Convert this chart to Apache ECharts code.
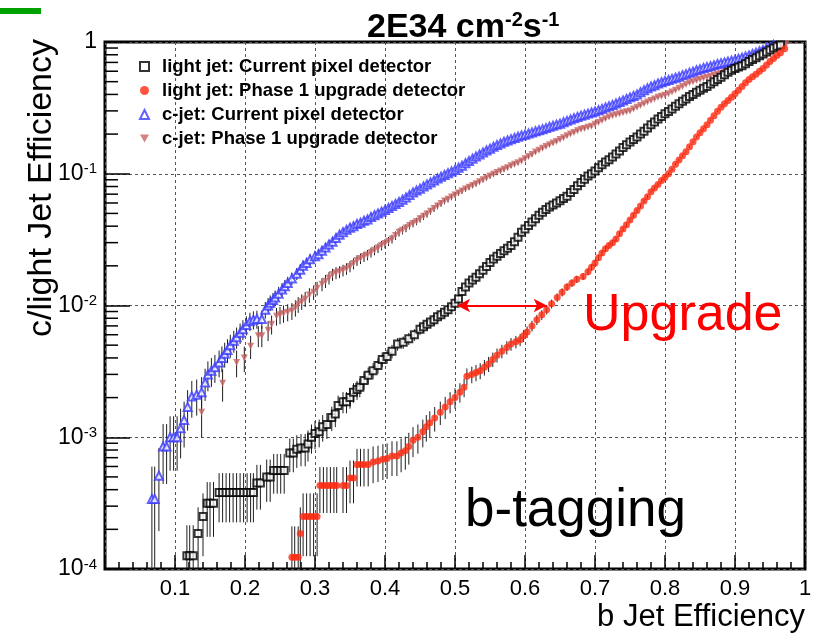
<!DOCTYPE html>
<html><head><meta charset="utf-8">
<script src="https://cdn.jsdelivr.net/npm/echarts/dist/echarts.min.js"></script>
<style>html,body{margin:0;padding:0;background:#fff}#c{width:818px;height:637px}</style>
</head><body><div id="c"></div><script>
const FONT = "'Liberation Sans', Arial, Helvetica, sans-serif";

// ---- data (b-jet efficiency, mistag efficiency) ----
const seriesNames = [
  'light jet: Current pixel detector',
  'light jet: Phase 1 upgrade detector',
  'c-jet: Current pixel detector',
  'c-jet: Phase 1 upgrade detector'
];
// events used for binomial error bars
const nLight = 16000;
const nCharm = 5100;

const lightCurrent = [
[0.117,1.26e-4],[0.121,1.26e-4],[0.126,1.26e-4],[0.133,1.86e-4],[0.140,2.5e-4],[0.146,3.16e-4],[0.150,3.16e-4],[0.155,3.16e-4],
[0.163,3.8e-4],[0.168,3.8e-4],[0.173,3.8e-4],[0.178,3.8e-4],[0.183,3.8e-4],[0.188,3.8e-4],[0.193,3.8e-4],[0.198,3.8e-4],[0.203,3.8e-4],[0.208,3.8e-4],[0.212,3.8e-4],
[0.217,4.5e-4],[0.222,4.5e-4],[0.231,5.0e-4],[0.236,5.0e-4],[0.241,5.6e-4],[0.246,5.6e-4],[0.251,5.6e-4],[0.256,5.6e-4],
[0.264,7.6e-4],[0.269,7.6e-4],[0.274,8.1e-4],[0.280,8.3e-4],[0.286,8.3e-4],[0.290,8.9e-4],[0.295,1.0e-3],[0.300,1.07e-3],[0.306,1.1e-3],[0.311,1.2e-3],[0.317,1.25e-3],
[0.324,1.41e-3],[0.329,1.5e-3],[0.333,1.74e-3],[0.340,1.86e-3],[0.345,1.86e-3],[0.350,2.0e-3],[0.355,2.2e-3],[0.360,2.3e-3],[0.364,2.4e-3],[0.370,2.7e-3],
[0.376,2.95e-3],[0.383,3.2e-3],[0.390,3.5e-3],[0.396,3.9e-3],[0.403,4.1e-3],[0.410,4.5e-3],[0.418,5.1e-3],[0.426,5.25e-3],[0.434,5.6e-3],[0.442,6.0e-3],
[0.450,6.6e-3],[0.455,6.9e-3],[0.460,7.2e-3],[0.465,7.5e-3],[0.470,7.8e-3],[0.475,8.2e-3],[0.480,8.5e-3],[0.485,8.9e-3],[0.490,9.3e-3],[0.495,9.8e-3],
[0.500,1.04e-2],[0.505,1.12e-2],[0.510,1.28e-2],[0.515,1.38e-2],[0.520,1.48e-2],[0.525,1.56e-2],[0.530,1.64e-2],[0.535,1.74e-2],[0.540,1.85e-2],[0.545,1.98e-2],
[0.550,2.12e-2],[0.555,2.25e-2],[0.560,2.37e-2],[0.565,2.48e-2],[0.570,2.6e-2],[0.575,2.72e-2],[0.580,2.85e-2],[0.585,3.05e-2],[0.590,3.3e-2],[0.595,3.6e-2],
[0.600,3.8e-2],[0.605,4.05e-2],[0.610,4.3e-2],[0.615,4.55e-2],[0.620,4.85e-2],[0.625,5.1e-2],[0.630,5.35e-2],[0.635,5.6e-2],[0.640,5.8e-2],[0.645,6.0e-2],
[0.650,6.25e-2],[0.655,6.5e-2],[0.660,6.75e-2],[0.665,7.2e-2],[0.670,7.6e-2],[0.675,8.1e-2],[0.680,8.6e-2],[0.685,9.1e-2],[0.690,9.6e-2],[0.695,0.10],
[0.700,0.105],[0.705,0.111],[0.710,0.117],[0.715,0.123],[0.720,0.128],[0.725,0.134],[0.730,0.141],[0.735,0.149],[0.740,0.158],[0.745,0.166],
[0.750,0.174],[0.755,0.182],[0.760,0.19],[0.765,0.20],[0.770,0.21],[0.775,0.222],[0.780,0.235],[0.785,0.247],[0.790,0.26],[0.795,0.272],
[0.800,0.285],[0.805,0.297],[0.810,0.31],[0.815,0.325],[0.820,0.34],[0.825,0.355],[0.830,0.37],[0.835,0.385],[0.840,0.40],[0.845,0.415],
[0.850,0.43],[0.855,0.445],[0.860,0.46],[0.865,0.48],[0.870,0.50],[0.875,0.52],[0.880,0.54],[0.885,0.565],[0.890,0.59],[0.895,0.61],
[0.900,0.63],[0.905,0.645],[0.910,0.66],[0.915,0.685],[0.920,0.71],[0.925,0.735],[0.930,0.76],[0.935,0.785],[0.940,0.81],[0.945,0.84],
[0.950,0.87],[0.955,0.90],[0.960,0.93],[0.965,0.95]
];

const lightUpgrade = [
[0.267,1.23e-4],[0.271,1.23e-4],[0.276,1.23e-4],[0.279,1.86e-4],[0.283,2.5e-4],[0.288,2.5e-4],[0.293,2.5e-4],[0.298,2.5e-4],[0.303,2.5e-4],
[0.307,4.3e-4],[0.312,4.3e-4],[0.317,4.3e-4],[0.322,4.3e-4],[0.327,4.3e-4],[0.331,4.3e-4],[0.340,4.3e-4],[0.345,4.3e-4],[0.350,4.9e-4],[0.355,4.9e-4],
[0.360,6.2e-4],[0.365,6.2e-4],[0.370,6.2e-4],[0.376,6.2e-4],[0.383,6.5e-4],[0.390,6.6e-4],[0.397,6.8e-4],[0.403,6.9e-4],[0.410,7.2e-4],[0.417,7.2e-4],
[0.423,7.6e-4],[0.429,7.9e-4],[0.434,8.5e-4],[0.440,9.5e-4],[0.447,1.0e-3],[0.454,1.1e-3],[0.459,1.2e-3],[0.464,1.29e-3],[0.471,1.4e-3],[0.479,1.55e-3],
[0.486,1.7e-3],[0.493,1.86e-3],[0.500,2.0e-3],[0.507,2.2e-3],[0.513,2.4e-3],[0.517,2.9e-3],[0.524,3.0e-3],[0.530,3.1e-3],[0.536,3.2e-3],[0.542,3.4e-3],
[0.548,3.6e-3],[0.554,3.9e-3],[0.560,4.2e-3],[0.567,4.5e-3],[0.574,4.8e-3],[0.580,5.1e-3],[0.587,5.3e-3],[0.593,5.5e-3],[0.598,5.9e-3],[0.603,6.3e-3],
[0.610,7.0e-3],[0.617,7.8e-3],[0.624,8.5e-3],[0.631,9.3e-3],[0.638,1.03e-2],[0.646,1.15e-2],[0.653,1.26e-2],[0.660,1.38e-2],[0.667,1.48e-2],[0.674,1.58e-2],
[0.683,1.66e-2],[0.690,1.8e-2],[0.695,1.95e-2],[0.700,2.1e-2],[0.705,2.3e-2],[0.710,2.5e-2],[0.715,2.7e-2],[0.720,2.85e-2],[0.725,3.0e-2],[0.730,3.2e-2],
[0.735,3.5e-2],[0.740,3.8e-2],[0.745,4.1e-2],[0.750,4.45e-2],[0.755,4.85e-2],[0.760,5.25e-2],[0.765,5.7e-2],[0.770,6.2e-2],[0.775,6.7e-2],[0.780,7.3e-2],
[0.785,7.8e-2],[0.790,8.3e-2],[0.795,8.9e-2],[0.800,9.4e-2],[0.805,0.10],[0.810,0.108],[0.815,0.118],[0.820,0.127],[0.825,0.137],[0.830,0.147],
[0.835,0.16],[0.840,0.175],[0.845,0.19],[0.850,0.205],[0.855,0.22],[0.860,0.235],[0.865,0.255],[0.870,0.275],[0.875,0.298],[0.880,0.32],
[0.885,0.34],[0.890,0.36],[0.895,0.38],[0.900,0.405],[0.905,0.43],[0.910,0.46],[0.915,0.49],[0.920,0.52],[0.925,0.545],[0.930,0.57],
[0.935,0.60],[0.940,0.63],[0.945,0.67],[0.950,0.71],[0.955,0.75],[0.960,0.79],[0.965,0.83],[0.971,0.89]
];

const charmCurrent = [
[0.067,3.4e-4],[0.071,3.4e-4],[0.077,5.1e-4],[0.083,8.5e-4],[0.088,8.5e-4],[0.093,1.0e-3],[0.098,1.0e-3],[0.103,1.0e-3],[0.108,1.17e-3],[0.113,1.35e-3],
[0.118,1.7e-3],[0.124,2.04e-3],[0.131,2.1e-3],[0.138,2.2e-3],[0.143,2.6e-3],[0.147,3.0e-3],[0.152,3.2e-3],[0.157,3.4e-3],[0.163,3.7e-3],[0.167,4.0e-3],
[0.171,4.3e-3],[0.175,4.6e-3],[0.179,5.0e-3],[0.184,5.4e-3],[0.188,5.75e-3],[0.193,6.2e-3],[0.197,6.6e-3],[0.202,7.1e-3],[0.207,7.6e-3],[0.212,7.8e-3],
[0.217,7.9e-3],[0.224,7.9e-3],[0.229,9.3e-3],[0.233,1.0e-2],[0.236,1.05e-2],[0.240,1.1e-2],[0.243,1.15e-2],[0.248,1.23e-2],[0.253,1.32e-2],[0.257,1.4e-2],
[0.261,1.48e-2],[0.267,1.6e-2],[0.274,1.74e-2],[0.279,1.87e-2],[0.283,2.0e-2],[0.288,2.1e-2],[0.293,2.24e-2],[0.300,2.37e-2],[0.305,2.45e-2],[0.310,2.6e-2],
[0.315,2.75e-2],[0.320,2.9e-2],[0.325,3.05e-2],[0.330,3.25e-2],[0.335,3.45e-2],[0.340,3.6e-2],[0.345,3.75e-2],[0.350,3.9e-2],[0.355,4.0e-2],[0.360,4.15e-2],
[0.365,4.25e-2],[0.370,4.4e-2],[0.375,4.5e-2],[0.380,4.7e-2],[0.385,4.85e-2],[0.390,5.0e-2],[0.395,5.15e-2],[0.400,5.3e-2],[0.405,5.5e-2],[0.410,5.7e-2],
[0.415,5.9e-2],[0.420,6.1e-2],[0.425,6.35e-2],[0.430,6.6e-2],[0.435,6.9e-2],[0.440,7.2e-2],[0.445,7.45e-2],[0.450,7.7e-2],[0.455,8.0e-2],[0.460,8.3e-2],
[0.465,8.6e-2],[0.470,8.9e-2],[0.475,9.2e-2],[0.480,9.5e-2],[0.485,9.8e-2],[0.490,0.101],[0.495,0.104],[0.500,0.107],[0.505,0.111],[0.510,0.115],
[0.515,0.12],[0.520,0.125],[0.525,0.13],[0.530,0.135],[0.535,0.14],[0.540,0.145],[0.545,0.15],[0.550,0.155],[0.555,0.16],[0.560,0.165],
[0.565,0.17],[0.570,0.175],[0.575,0.179],[0.580,0.183],[0.585,0.187],[0.590,0.191],[0.595,0.195],[0.600,0.198],[0.605,0.202],[0.610,0.206],
[0.615,0.21],[0.620,0.214],[0.625,0.218],[0.630,0.222],[0.635,0.227],[0.640,0.231],[0.645,0.236],[0.650,0.24],[0.655,0.246],[0.660,0.252],
[0.665,0.258],[0.670,0.264],[0.675,0.27],[0.680,0.276],[0.685,0.281],[0.690,0.286],[0.695,0.292],[0.700,0.297],[0.705,0.304],[0.710,0.31],
[0.715,0.318],[0.720,0.325],[0.725,0.333],[0.730,0.341],[0.735,0.35],[0.740,0.36],[0.745,0.37],[0.750,0.38],[0.755,0.39],[0.760,0.40],
[0.765,0.415],[0.770,0.43],[0.775,0.445],[0.780,0.46],[0.785,0.47],[0.790,0.485],[0.795,0.495],[0.800,0.505],[0.805,0.515],[0.810,0.525],
[0.815,0.535],[0.820,0.545],[0.825,0.56],[0.830,0.57],[0.835,0.585],[0.840,0.595],[0.845,0.61],[0.850,0.62],[0.855,0.635],[0.860,0.645],
[0.865,0.655],[0.870,0.665],[0.875,0.68],[0.880,0.69],[0.885,0.70],[0.890,0.71],[0.895,0.72],[0.900,0.73],[0.905,0.745],[0.910,0.76],
[0.915,0.775],[0.920,0.79],[0.925,0.81],[0.930,0.83],[0.935,0.85],[0.940,0.87],[0.945,0.895],[0.950,0.92],[0.955,0.95]
];

const charmUpgrade = [
[0.138,1.55e-3],[0.168,2.57e-3],[0.188,3.7e-3],[0.199,4.0e-3],[0.208,4.9e-3],[0.219,5.9e-3],[0.224,5.9e-3],[0.233,6.5e-3],[0.238,7.2e-3],[0.245,8.3e-3],
[0.250,8.5e-3],[0.255,8.7e-3],[0.261,8.9e-3],[0.267,9.1e-3],[0.272,9.6e-3],[0.276,1.02e-2],[0.281,1.07e-2],[0.286,1.12e-2],[0.292,1.2e-2],[0.298,1.26e-2],
[0.303,1.35e-2],[0.310,1.45e-2],[0.315,1.53e-2],[0.320,1.62e-2],[0.325,1.72e-2],[0.330,1.77e-2],[0.335,1.8e-2],[0.340,1.85e-2],[0.345,1.9e-2],[0.350,1.98e-2],
[0.355,2.08e-2],[0.360,2.2e-2],[0.365,2.27e-2],[0.370,2.35e-2],[0.375,2.42e-2],[0.380,2.53e-2],[0.385,2.63e-2],[0.390,2.73e-2],[0.395,2.85e-2],[0.400,2.95e-2],
[0.405,3.07e-2],[0.410,3.2e-2],[0.415,3.4e-2],[0.420,3.6e-2],[0.425,3.73e-2],[0.430,3.87e-2],[0.435,4.05e-2],[0.440,4.2e-2],[0.445,4.35e-2],[0.450,4.55e-2],
[0.455,4.75e-2],[0.460,4.95e-2],[0.465,5.2e-2],[0.470,5.45e-2],[0.475,5.7e-2],[0.480,5.95e-2],[0.485,6.2e-2],[0.490,6.4e-2],[0.495,6.65e-2],[0.500,6.9e-2],
[0.505,7.15e-2],[0.510,7.4e-2],[0.515,7.65e-2],[0.520,7.9e-2],[0.525,8.15e-2],[0.530,8.4e-2],[0.535,8.7e-2],[0.540,9.0e-2],[0.545,9.3e-2],[0.550,9.6e-2],
[0.555,9.9e-2],[0.560,0.102],[0.565,0.105],[0.570,0.108],[0.575,0.111],[0.580,0.115],[0.585,0.118],[0.590,0.121],[0.595,0.125],[0.600,0.13],
[0.605,0.135],[0.610,0.14],[0.615,0.146],[0.620,0.151],[0.625,0.156],[0.630,0.161],[0.635,0.166],[0.640,0.171],[0.645,0.176],[0.650,0.182],
[0.655,0.188],[0.660,0.194],[0.665,0.20],[0.670,0.206],[0.675,0.212],[0.680,0.218],[0.685,0.221],[0.690,0.225],[0.695,0.229],[0.700,0.238],
[0.705,0.245],[0.710,0.254],[0.715,0.262],[0.720,0.27],[0.725,0.275],[0.730,0.28],[0.735,0.285],[0.740,0.29],[0.745,0.295],[0.750,0.30],
[0.755,0.31],[0.760,0.32],[0.765,0.33],[0.770,0.34],[0.775,0.35],[0.780,0.36],[0.785,0.37],[0.790,0.38],[0.795,0.387],[0.800,0.395],
[0.805,0.405],[0.810,0.418],[0.815,0.43],[0.820,0.445],[0.825,0.46],[0.830,0.475],[0.835,0.49],[0.840,0.50],[0.845,0.51],[0.850,0.52],
[0.855,0.53],[0.860,0.54],[0.865,0.55],[0.870,0.56],[0.875,0.57],[0.880,0.58],[0.885,0.59],[0.890,0.60],[0.895,0.615],[0.900,0.63],
[0.905,0.645],[0.910,0.66],[0.915,0.675],[0.920,0.695],[0.925,0.71],[0.930,0.73],[0.935,0.75],[0.940,0.77],[0.945,0.795],[0.950,0.82],
[0.955,0.85],[0.960,0.88],[0.965,0.91],[0.970,0.94],[0.973,0.96]
];

const xTickLabels = ['', '0.1', '0.2', '0.3', '0.4', '0.5', '0.6', '0.7', '0.8', '0.9', '1'];
const yDecades = [1e-4, 1e-3, 1e-2, 1e-1, 1];
const arrowFrom = [0.503, 0.01];
const arrowTo = [0.631, 0.01];

// ---- derived ----
function errorBars(pts, n) {
  return pts.map(function (p) {
    const s = Math.sqrt(p[1] * (1 - p[1]) / n);
    return [p[0], Math.max(p[1] - s, 1e-4), Math.min(p[1] + s, 1)];
  });
}
const yMinor = [];
for (let i = 0; i < yDecades.length - 1; i++) {
  for (let m = 2; m <= 9; m++) yMinor.push([0, yDecades[i] * m]);
}

function renderBar(params, api) {
  const a = api.coord([api.value(0), api.value(1)]);
  const b = api.coord([api.value(0), api.value(2)]);
  return { type: 'line', shape: { x1: a[0], y1: a[1], x2: b[0], y2: b[1] },
           style: { stroke: '#1e1e1e', lineWidth: 1 } };
}
function renderMinor(params, api) {
  const p = api.coord([api.value(0), api.value(1)]);
  return { type: 'line', shape: { x1: p[0], y1: p[1], x2: p[0] + 13, y2: p[1] },
           style: { stroke: '#000', lineWidth: 1.5 } };
}
function barSeries(pts, n) {
  return { type: 'custom', renderItem: renderBar, data: errorBars(pts, n),
           encode: { x: 0, y: [1, 2] }, z: 2, silent: true, clip: true };
}

const RED = '#ff2a10', BLUE = '#3a3aff', ROSE = '#c86464';
const DOWN_TRI = 'path://M0,0L10,0L5,9Z';

const chart = echarts.init(document.getElementById('c'), null, { renderer: 'canvas' });
chart.setOption({
  animation: false,
  backgroundColor: '#fff',
  textStyle: { fontFamily: FONT },
  title: {
    text: '{m|2E34 cm}{s|-2}{m|s}{s|-1}',
    left: 362, top: 5,
    textStyle: {
      rich: {
        m: { fontFamily: FONT, fontSize: 34, fontWeight: 'bold', color: '#000', lineHeight: 36 },
        s: { fontFamily: FONT, fontSize: 20, fontWeight: 'bold', color: '#000', verticalAlign: 'top', lineHeight: 20 }
      }
    }
  },
  grid: { left: 105, right: 13, top: 42, bottom: 68, show: true, borderColor: '#000', borderWidth: 3, backgroundColor: 'transparent' },
  legend: {
    orient: 'vertical', left: 134, top: 52, itemWidth: 9, itemHeight: 9, itemGap: 5,
    selectedMode: false,
    textStyle: { fontFamily: FONT, fontWeight: 'bold', fontSize: 18.5, color: '#000', padding: [0, 0, 0, 8] },
    data: [
      { name: seriesNames[0], icon: 'emptyRect' },
      { name: seriesNames[1], icon: 'circle' },
      { name: seriesNames[2], icon: 'emptyTriangle' },
      { name: seriesNames[3], icon: DOWN_TRI }
    ]
  },
  xAxis: {
    type: 'value', min: 0, max: 1, interval: 0.1,
    axisLine: { show: false },
    axisTick: { inside: true, length: 14, lineStyle: { color: '#000', width: 1.5 } },
    minorTick: { show: true, splitNumber: 5, length: 7, lineStyle: { color: '#000', width: 1.5 } },
    axisLabel: {
      margin: 9, fontFamily: FONT, fontSize: 22, color: '#000',
      formatter: function (v) { return xTickLabels[Math.round(v * 10)]; }
    },
    splitLine: { show: true, lineStyle: { color: '#555', width: 1, type: [3, 3] } }
  },
  yAxis: {
    type: 'log', logBase: 10, min: 1e-4, max: 1,
    axisLine: { show: false },
    axisTick: { inside: true, length: 25, lineStyle: { color: '#000', width: 1.5 } },
    axisLabel: {
      margin: 8, color: '#000',
      formatter: function (v) {
        const e = Math.round(Math.log10(v));
        return e === 0 ? '{b|1}' : '{b|10}{s|' + e + '}';
      },
      rich: {
        b: { fontFamily: FONT, fontSize: 23, color: '#000', lineHeight: 24 },
        s: { fontFamily: FONT, fontSize: 15, color: '#000', verticalAlign: 'top', lineHeight: 15 }
      }
    },
    splitLine: { show: true, lineStyle: { color: '#555', width: 1, type: [3, 3] } }
  },
  graphic: [
    { type: 'rect', left: 0, top: 8, shape: { width: 41, height: 6 }, style: { fill: '#00a000' } },
    { type: 'text', x: 42, y: 39, rotation: Math.PI / 2,
      style: { text: 'c/light Jet Efficiency', fontFamily: FONT, fontSize: 34, fill: '#000', align: 'right', verticalAlign: 'middle' } },
    { type: 'text', x: 805, y: 617,
      style: { text: 'b Jet Efficiency', fontFamily: FONT, fontSize: 31, fill: '#000', align: 'right', verticalAlign: 'middle' } },
    { type: 'text', left: 583, top: 290, z: 10,
      style: { text: 'Upgrade', fontFamily: FONT, fontSize: 52, fill: '#ff0000' } },
    { type: 'text', left: 465, top: 485, z: 10,
      style: { text: 'b-tagging', fontFamily: FONT, fontSize: 53, fill: '#000' } }
  ],
  series: [
    { type: 'custom', renderItem: renderMinor, data: yMinor, encode: { x: 0, y: 1 }, z: 5, silent: true },
    barSeries(charmCurrent, nCharm),
    barSeries(charmUpgrade, nCharm),
    barSeries(lightCurrent, nLight),
    barSeries(lightUpgrade, nLight),
    { name: seriesNames[2], type: 'scatter', data: charmCurrent, symbol: 'emptyTriangle', symbolSize: 8,
      itemStyle: { color: BLUE, borderWidth: 1 }, z: 3 },
    { name: seriesNames[3], type: 'scatter', data: charmUpgrade, symbol: DOWN_TRI, symbolSize: 7,
      itemStyle: { color: ROSE }, z: 3 },
    { name: seriesNames[0], type: 'scatter', data: lightCurrent, symbol: 'emptyRect', symbolSize: 7,
      itemStyle: { color: '#000', borderWidth: 1 }, z: 3 },
    { name: seriesNames[1], type: 'scatter', data: lightUpgrade, symbol: 'circle', symbolSize: 7,
      itemStyle: { color: RED }, z: 4,
      markLine: {
        silent: true, symbol: ['arrow', 'arrow'], symbolSize: [10, 13],
        label: { show: false },
        lineStyle: { color: '#ff0000', width: 2, type: 'solid' },
        data: [[{ coord: arrowFrom }, { coord: arrowTo }]]
      } }
  ]
});
</script></body></html>
